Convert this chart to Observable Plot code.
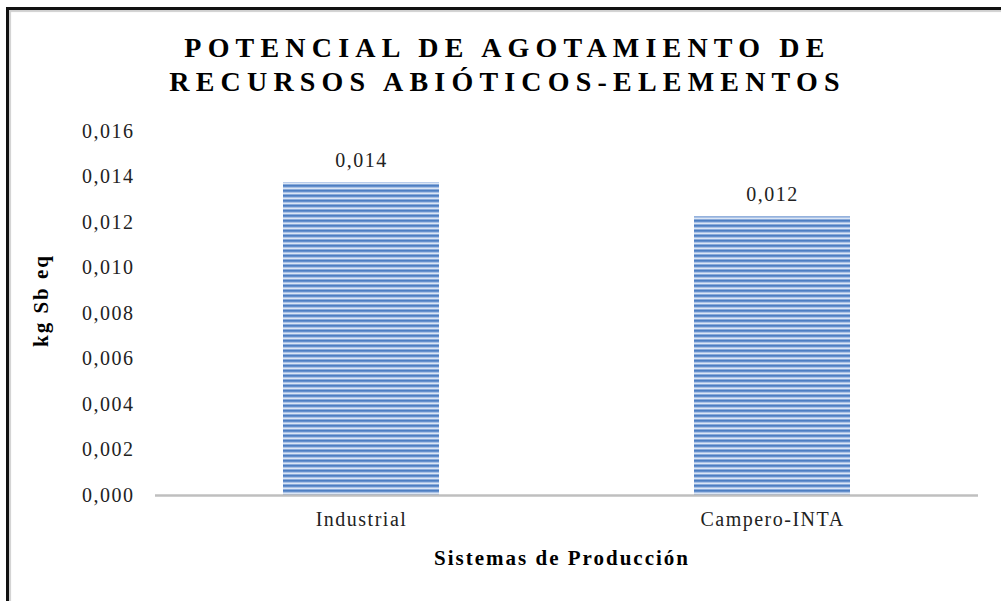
<!DOCTYPE html>
<html>
<head>
<meta charset="utf-8">
<script src="https://cdn.jsdelivr.net/npm/d3@7"></script>
<script src="https://cdn.jsdelivr.net/npm/@observablehq/plot@0.6"></script>
<style>
  html, body { margin: 0; padding: 0; background: #fff; overflow: hidden; }
  #wrap { position: relative; width: 1001px; height: 601px; font-family: "Liberation Serif", "Times New Roman", serif; }
  #frame { position: absolute; left: 6px; top: 7px; width: 1100px; height: 700px;
           border-left: 3px solid #111; border-top: 3px solid #111; box-shadow: inset 2px 2px 1px #d0d0d0; }
  #title { position: absolute; left: 7px; top: 31px; width: 1001px; text-align: center;
           font-weight: bold; font-size: 28px; letter-spacing: 6.2px; line-height: 34px; color: #000; }
  #chart { position: absolute; left: 0; top: 115px; }
  #chart svg { font-family: "Liberation Serif", "Times New Roman", serif; }
  #chart svg text { letter-spacing: 1.5px; }
  #chart .titulo-eje text { letter-spacing: 2px; }
</style>
</head>
<body>
<div id="wrap">
  <div id="frame"></div>
  <div id="title">POTENCIAL DE AGOTAMIENTO DE<br>RECURSOS ABIÓTICOS-ELEMENTOS</div>
  <div id="chart"></div>
</div>
<script>
const categories = ["Industrial", "Campero-INTA"];
const values = [0.01375, 0.01225];
const valueLabels = ["0,014", "0,012"];
const yTicks = [0, 0.002, 0.004, 0.006, 0.008, 0.010, 0.012, 0.014, 0.016];
const yTitle = "kg Sb eq";
const xTitle = "Sistemas de Producción";

const data = categories.map((c, i) => ({sistema: c, valor: values[i], etiqueta: valueLabels[i]}));
const fmt = v => d3.format(".3f")(v).replace(".", ",");

const plot = Plot.plot({
  width: 1001,
  height: 486,
  marginLeft: 155,
  marginRight: 23,
  marginTop: 16,
  marginBottom: 106,
  style: {fontSize: "20px", color: "#222", background: "transparent"},
  x: {domain: categories, paddingInner: 0.62, paddingOuter: 0.31, label: null},
  y: {domain: [0, 0.016], label: null},
  marks: [
    Plot.axisY({ticks: yTicks, tickFormat: fmt, tickSize: 0, tickPadding: 21, fontSize: 20, label: null}),
    Plot.axisX({tickSize: 0, tickPadding: 16, fontSize: 20, label: null}),
    Plot.barY(data, {x: "sistema", y: "valor", fill: "url(#rayas)"}),
    Plot.ruleY([0], {stroke: "#bfbfbf", strokeWidth: 2.5}),
    Plot.text(data, {x: "sistema", y: "valor", text: "etiqueta", dy: -22, fontSize: 20, fill: "#222"}),
    Plot.text([yTitle], {frameAnchor: "left", textAnchor: "middle", lineAnchor: "middle", rotate: -90,
      dx: -114, dy: -13, fontSize: 21, fontWeight: "bold", fill: "#000", className: "titulo-eje"}),
    Plot.text([xTitle], {frameAnchor: "bottom", textAnchor: "middle", lineAnchor: "middle",
      dx: -5, dy: 63, fontSize: 21, fontWeight: "bold", fill: "#000", className: "titulo-eje"})
  ]
});

const ns = "http://www.w3.org/2000/svg";
const defs = document.createElementNS(ns, "defs");
const pat = document.createElementNS(ns, "pattern");
pat.setAttribute("id", "rayas");
pat.setAttribute("patternUnits", "userSpaceOnUse");
pat.setAttribute("width", "10");
pat.setAttribute("height", "5");
const stripeColors = ["#4d7ec2", "#6590cc", "#aac2e6", "#dbe6f5", "#8aabda"];
stripeColors.forEach((c, i) => {
  const r = document.createElementNS(ns, "rect");
  r.setAttribute("x", 0); r.setAttribute("y", i);
  r.setAttribute("width", 10); r.setAttribute("height", 1);
  r.setAttribute("fill", c);
  pat.appendChild(r);
});
defs.appendChild(pat);
plot.insertBefore(defs, plot.firstChild);

document.getElementById("chart").appendChild(plot);
</script>
</body>
</html>
